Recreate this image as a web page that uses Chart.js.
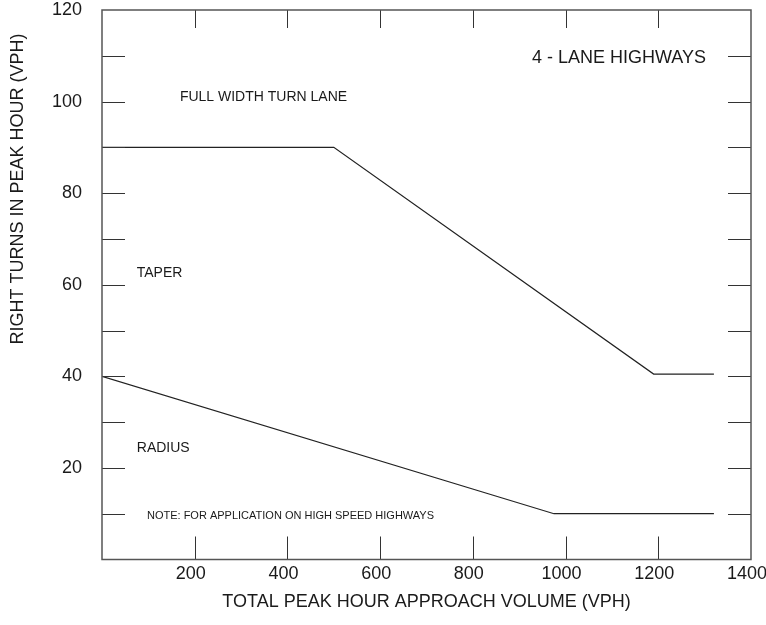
<!DOCTYPE html>
<html>
<head>
<meta charset="utf-8">
<script src="https://cdn.jsdelivr.net/npm/chart.js@4.4.1/dist/chart.umd.min.js"></script>
<style>
  body { margin: 0; background: #fff; }
  #wrap { width: 766px; height: 625px; }
</style>
</head>
<body>
<div id="wrap"><canvas id="turnChart" width="766" height="625"></canvas></div>
<script>
// boundary between full width turn lane and taper
var taperLimitX = [0, 500, 1190, 1320];
var taperLimitY = [90, 90, 40.5, 40.5];
// boundary between taper and radius
var radiusLimitX = [0, 975, 1320];
var radiusLimitY = [40, 10, 10];

var yTickLabels = [20, 40, 60, 80, 100, 120];
var xTickLabels = [200, 400, 600, 800, 1000, 1200, 1400];

var notes = ['FULL WIDTH TURN LANE', 'TAPER', 'RADIUS', 'NOTE: FOR APPLICATION ON HIGH SPEED HIGHWAYS', '4 - LANE HIGHWAYS'];

function toPoints(xs, ys) {
    return xs.map(function (x, i) { return { x: x, y: ys[i] }; });
}

var FONT = '"Liberation Sans", Arial, sans-serif';
var INK = '#1a1a1a';

var framePlugin = {
    id: 'frame',
    afterDraw: function (chart) {
        var ctx = chart.ctx;
        var a = chart.chartArea;
        var xs = chart.scales.x, ys = chart.scales.y;
        ctx.save();
        // inward tick marks
        ctx.strokeStyle = '#333';
        ctx.lineWidth = 1;
        ctx.beginPath();
        for (var v = 10; v < 120; v += 10) {
            var py = Math.round(ys.getPixelForValue(v)) + 0.5;
            ctx.moveTo(a.left, py); ctx.lineTo(a.left + 23, py);
            ctx.moveTo(a.right, py); ctx.lineTo(a.right - 23, py);
        }
        for (var u = 200; u < 1400; u += 200) {
            var px = Math.round(xs.getPixelForValue(u)) + 0.5;
            ctx.moveTo(px, a.bottom); ctx.lineTo(px, a.bottom - 23);
            ctx.moveTo(px, a.top); ctx.lineTo(px, a.top + 18);
        }
        ctx.stroke();
        // frame
        ctx.strokeStyle = '#555';
        ctx.lineWidth = 1.5;
        ctx.strokeRect(a.left, a.top, a.right - a.left, a.bottom - a.top);

        // region labels
        ctx.fillStyle = INK;
        ctx.textBaseline = 'middle';
        ctx.textAlign = 'left';
        ctx.font = '14px ' + FONT;
        ctx.fillText(notes[0], xs.getPixelForValue(168), ys.getPixelForValue(101));
        ctx.fillText(notes[1], xs.getPixelForValue(75), ys.getPixelForValue(62.6));
        ctx.fillText(notes[2], xs.getPixelForValue(75), ys.getPixelForValue(24.4));
        ctx.font = '11px ' + FONT;
        ctx.fillText(notes[3], xs.getPixelForValue(97), ys.getPixelForValue(9.5));
        ctx.font = '18px ' + FONT;
        ctx.textAlign = 'right';
        ctx.fillText(notes[4], xs.getPixelForValue(1303), ys.getPixelForValue(109.5));

        // y axis title
        ctx.translate(18, 189);
        ctx.rotate(-Math.PI / 2);
        ctx.textAlign = 'center';
        ctx.font = '18px ' + FONT;
        ctx.fillText('RIGHT TURNS IN PEAK HOUR (VPH)', 0, 0);
        ctx.restore();
    }
};

var turnChartCanvas = document.getElementById('turnChart').getContext('2d');
var turnChart = new Chart(turnChartCanvas, {
    type: 'line',
    data: {
        datasets: [{
            label: 'Taper limit',
            data: toPoints(taperLimitX, taperLimitY),
            borderColor: '#222',
            borderWidth: 1.2,
            pointRadius: 0,
            fill: false,
        }, {
            label: 'Radius limit',
            data: toPoints(radiusLimitX, radiusLimitY),
            borderColor: '#222',
            borderWidth: 1.2,
            pointRadius: 0,
            fill: false,
        }],
    },
    options: {
        responsive: false,
        animation: false,
        layout: { padding: { left: 0, right: 15, top: 10, bottom: 12 } },
        plugins: {
            legend: { display: false },
            tooltip: { enabled: false },
        },
        scales: {
            x: {
                type: 'linear',
                min: 0,
                max: 1400,
                grid: { display: false, drawTicks: false },
                border: { display: false },
                afterBuildTicks: function (scale) {
                    scale.ticks = xTickLabels.map(function (v) { return { value: v }; });
                },
                afterFit: function (scale) {
                    scale.height = 53.5;
                    scale.paddingLeft = 0;
                    scale.paddingRight = 0;
                },
                ticks: {
                    padding: 4,
                    maxRotation: 0,
                    labelOffset: -4,
                    color: INK,
                    font: { family: FONT, size: 18 },
                    callback: function (value) { return String(value); },
                },
                title: {
                    display: true,
                    text: 'TOTAL PEAK HOUR APPROACH VOLUME (VPH)',
                    color: INK,
                    padding: 0,
                    font: { family: FONT, size: 18 },
                },
            },
            y: {
                type: 'linear',
                min: 0,
                max: 120,
                grid: { display: false, drawTicks: false },
                border: { display: false },
                afterBuildTicks: function (scale) {
                    scale.ticks = yTickLabels.map(function (v) { return { value: v }; });
                },
                afterFit: function (scale) {
                    scale.width = 102;
                    scale.paddingTop = 0;
                    scale.paddingBottom = 0;
                },
                ticks: {
                    padding: 20,
                    color: INK,
                    font: { family: FONT, size: 18 },
                    callback: function (value) { return String(value); },
                },
            },
        },
    },
    plugins: [framePlugin],
});
</script>
</body>
</html>
